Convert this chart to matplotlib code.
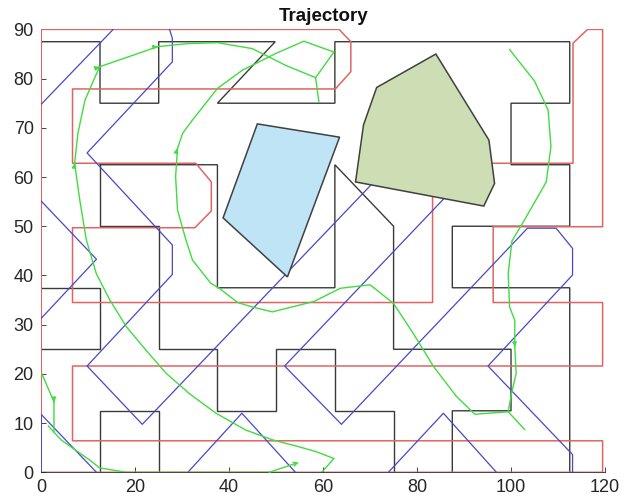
import matplotlib
matplotlib.use("Agg")
import matplotlib.pyplot as plt
from matplotlib.patches import Polygon

plt.rcParams['font.family'] = ['Liberation Sans', 'DejaVu Sans']

# ---- map data -------------------------------------------------------------
# cell decomposition boundaries (black)
walls = [
    [(0, 87.5), (12.5, 87.5), (12.5, 75), (25, 75), (25, 87.5), (49.8, 87.5),
     (37.5, 75), (62.5, 75), (62.5, 87.5), (112.5, 87.5), (112.5, 75), (100, 75),
     (100, 62.5), (112.5, 62.5), (112.5, 50), (87.5, 50), (87.5, 37.5),
     (112.5, 37.5), (112.5, 0)],
    [(0, 37.5), (12.5, 37.5), (12.5, 25), (0, 25)],
    [(12.5, 62.5), (37.5, 62.5), (37.5, 37.5), (62.5, 37.5), (62.5, 62.5),
     (75, 50), (75, 25), (100, 25), (100, 12.5), (87.5, 12.5), (87.5, 0)],
    [(12.5, 62.5), (12.5, 50), (25, 50), (25, 25), (37.5, 25), (37.5, 12.5),
     (50, 12.5), (50, 25), (62.5, 25), (62.5, 12.5), (75, 12.5), (75, 0)],
    [(12.5, 0), (12.5, 12.5), (25, 12.5), (25, 0)],
]

# boustrophedon coverage loop (red)
sweep_x = [0, 0, 63.4, 65.9, 65.9, 62.6, 6.65, 6.65, 32.9, 36.2, 36.2, 32.7,
           6.65, 6.65, 83.3, 83.3, 113.2, 113.2, 116.3, 119.5, 119.5, 96.2,
           96.2, 119.5, 119.5, 6.65, 6.65, 119.5, 119.5, 0]
sweep_y = [0, 90, 90, 87.5, 81.4, 77.9, 77.9, 62.8, 62.8, 59.0, 53.1, 49.7,
           49.7, 34.5, 34.5, 62.8, 62.8, 87.2, 90, 90, 49.9, 49.9,
           34.5, 34.5, 21.6, 21.6, 6.4, 6.4, 0, 0]

# diagonal zig-zag coverage (blue)
zigzag = [
    [(15.3, 90), (0, 74.8)],
    [(27.3, 90), (27.9, 88.2), (27.9, 83.4), (9.75, 64.9), (27.9, 46.2),
     (27.9, 40.2), (9.75, 21.6), (21.5, 9.75), (70.2, 58.4)],
    [(0, 55.1), (11.75, 43.3), (0, 31.3)],
    [(0, 0), (0, 11.75), (11.75, 0)],
    [(31.2, 0), (42.7, 12.0), (54.1, 0)],
    [(85.6, 55.5), (51.8, 21.6), (63.9, 9.75), (103.5, 49.6), (109.6, 49.6),
     (113.1, 45.5), (113.1, 40.1), (95.1, 21.6), (113.1, 3.6), (113.1, 0)],
    [(73.9, 0), (85.6, 12.0), (96.9, 0)],
]

# followed trajectory (green)
outer_x = [59.8, 62.3, 58.5, 54.8, 49.2, 43.5, 37.2, 31.5, 26.6, 22.3, 18.1,
           14.6, 11.7, 9.6, 8.2, 7.1, 7.8, 9.3, 12.4, 24.8, 31.0, 37.5, 44.9,
           48.5, 52.0, 58.4]
outer_y = [0.1, 2.8, 4.2, 5.2, 6.6, 8.6, 12.0, 16.0, 20.1, 24.8, 29.6,
           35.0, 40.4, 47.2, 55.3, 62.8, 68.9, 75.6, 82.4, 86.5, 87.1, 87.3, 86.1,
           84.4, 82.7, 80.2]

spiral_x = [99.7, 105.0, 107.9, 108.5, 107.5, 103.0, 100.2, 99.4, 99.7, 100.8,
            100.8, 101.1, 100.1, 99.4, 92.3, 88.4, 83.5, 79.2, 75.0, 70.0,
            63.7, 58.0, 49.2, 44.9, 41.8, 37.9, 36.1, 32.2, 30.8, 29.0, 28.6,
            29.0, 30.1, 32.2, 37.5, 42.8, 49.9, 55.9, 62.3, 58.4, 59.1]
spiral_y = [85.9, 79.5, 73.6, 66.2, 59.0, 51.5, 47.0, 40.4, 33.6, 30.9,
            25.5, 20.1, 16.0, 12.3, 11.8, 15.4, 21.5, 28.2, 34.3, 38.1,
            37.4, 34.7, 32.6, 33.6, 34.5, 37.4, 38.4, 43.1, 47.2, 53.3, 60.1,
            65.8, 68.9, 71.6, 78.0, 81.7, 85.1, 87.6, 85.4, 80.2, 75.3]

tail_x = [99.4, 102.9]
tail_y = [12.3, 8.7]

corner_x = [0.1, 2.7, 2.7]
corner_y = [20.1, 14.3, 8.2]

bottom_x = [1.5, 4.2, 8.2, 10.3, 12.4, 18.1, 48.5, 54.8]
bottom_y = [9.4, 6.6, 3.9, 2.5, 0.9, 0.0, 0.0, 2.0]

# obstacles
obstacle_a = [(46.0, 70.8), (63.5, 68.1), (52.4, 39.7), (38.7, 51.7)]
obstacle_b = [(71.4, 78.2), (84.0, 85.0), (95.3, 67.5), (96.5, 58.7),
              (94.2, 54.1), (66.9, 59.0), (68.6, 70.6)]

# direction markers: (path, vertex index) -> arrow toward the next vertex
arrow_marks = [("outer", 15), ("outer", 18), ("outer", 19),
               ("spiral", 10), ("spiral", 31), ("corner", 1), ("bottom", 6)]

x_ticks = [0, 20, 40, 60, 80, 100, 120]
y_ticks = [0, 10, 20, 30, 40, 50, 60, 70, 80, 90]

# ---- drawing ------------------------------------------------------------------
BLACK = '#3a3a3a'
RED = '#e06464'
BLUE = '#4848c8'
GREEN = '#40dc40'
TXT = '#262626'

fig = plt.figure(figsize=(6.35, 5.01), dpi=100)
ax = fig.add_axes([0.065, 0.0573, 0.8877, 0.884])

for w in walls:
    xs, ys = zip(*w)
    ax.plot(xs, ys, color=BLACK, lw=1.0, zorder=2, solid_joinstyle='miter')

ax.plot(sweep_x, sweep_y, color=RED, lw=1.1, zorder=3)

for z in zigzag:
    xs, ys = zip(*z)
    ax.plot(xs, ys, color=BLUE, lw=0.9, zorder=4)

paths = {
    "outer": (outer_x, outer_y),
    "spiral": (spiral_x, spiral_y),
    "corner": (corner_x, corner_y),
    "bottom": (bottom_x, bottom_y),
}
for name, (xs, ys) in paths.items():
    if name == "bottom":
        ax.plot(xs[:-1], ys[:-1], color=GREEN, lw=1.0, zorder=5)
    else:
        ax.plot(xs, ys, color=GREEN, lw=1.0, zorder=5)
ax.plot(tail_x, tail_y, color=GREEN, lw=1.0, zorder=5)

for name, i in arrow_marks:
    xs, ys = paths[name]
    if name == "bottom":
        start, end = (xs[i], ys[i]), (xs[i + 1], ys[i + 1])
        ax.annotate('', xy=end, xytext=start,
                    arrowprops=dict(arrowstyle='->', color=GREEN, lw=1.0,
                                    mutation_scale=7, shrinkA=0, shrinkB=0),
                    zorder=5)
        continue
    x0, y0 = xs[i], ys[i]
    x1, y1 = xs[i + 1], ys[i + 1]
    f = 0.001
    ax.annotate('', xy=(x0 + (x1 - x0) * f, y0 + (y1 - y0) * f), xytext=(x0, y0),
                arrowprops=dict(arrowstyle='-|>', color=GREEN, lw=1.0,
                                mutation_scale=6, shrinkA=0, shrinkB=0),
                zorder=5)

for verts, fc in ((obstacle_a, '#bee4f5'), (obstacle_b, '#cddeb4')):
    ax.add_patch(Polygon(verts, closed=True, facecolor=fc, edgecolor='#404040',
                         lw=1.1, zorder=6))

ax.set_xlim(0, 120)
ax.set_ylim(0, 90)
ax.set_xticks(x_ticks)
ax.set_yticks(y_ticks)
ax.tick_params(direction='in', length=3.6, width=0.6, colors=TXT,
               labelsize=13, pad=5.5)
ax.tick_params(axis='x', pad=5)
for s in ('top', 'right'):
    ax.spines[s].set_visible(False)
for s in ('left', 'bottom'):
    ax.spines[s].set_color(TXT)
    ax.spines[s].set_linewidth(0.6)

ax.set_title('Trajectory', fontsize=13.5, fontweight='bold', color='#111111', pad=6)

fig.savefig('out.png', dpi=100)
